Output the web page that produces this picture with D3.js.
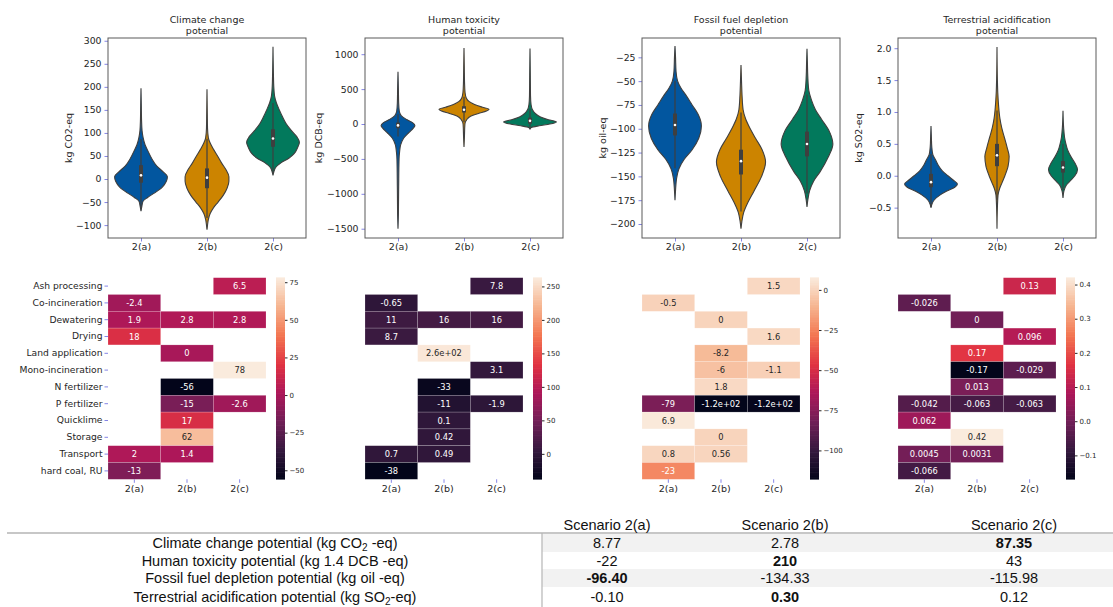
<!DOCTYPE html>
<html>
<head>
<meta charset="utf-8">
<script src="https://cdn.jsdelivr.net/npm/d3@7"></script>
<style>
body { margin: 0; background: #fff; }
text { font-family: "DejaVu Sans", sans-serif; fill: #262626; }
.tbl text { font-family: "Liberation Sans", Arial, sans-serif; fill: #111; }
</style>
</head>
<body>
<svg id="chart" width="1113" height="607"></svg>
<script>
// ---- data ----
var scenarios = ["2(a)", "2(b)", "2(c)"];
var titles = [["Climate change", "potential"], ["Human toxicity", "potential"],
              ["Fossil fuel depletion", "potential"], ["Terrestrial acidification", "potential"]];
var yLabels = ["kg CO2-eq", "kg DCB-eq", "kg oil-eq", "kg SO2-eq"];
var yDomains = [[-128, 306], [-1633, 1232], [-214.7, -4.7], [-0.976, 2.16]];
var yTicks = [
    [-100, -50, 0, 50, 100, 150, 200, 250, 300],
    [-1500, -1000, -500, 0, 500, 1000],
    [-200, -175, -150, -125, -100, -75, -50, -25],
    [-0.5, 0, 0.5, 1, 1.5, 2]
];
var violinColors = ["#02569f", "#cc8400", "#02795c"];

// violin outlines: [value, relative half width]
var climateShapes = [
    [[-70,0],[-60,0.03],[-48,0.08],[-40,0.25],[-30,0.52],[-18,0.8],[-5,0.96],[5,1.0],[15,0.85],[28,0.6],[45,0.4],[60,0.27],[75,0.15],[90,0.08],[105,0.04],[130,0.02],[160,0.012],[197,0]],
    [[-110,0],[-100,0.02],[-88,0.05],[-75,0.12],[-62,0.25],[-50,0.42],[-35,0.62],[-20,0.76],[-5,0.83],[5,0.83],[20,0.72],[35,0.55],[50,0.4],[65,0.24],[78,0.12],[90,0.05],[110,0.02],[140,0.012],[195,0]],
    [[8,0],[15,0.03],[25,0.1],[35,0.3],[45,0.6],[55,0.8],[68,0.93],[80,1.0],[92,0.9],[105,0.7],[120,0.5],[135,0.36],[150,0.24],[165,0.13],[180,0.06],[200,0.03],[230,0.015],[287,0]]
];
var humanShapes = [
    [[-1500,0],[-1300,0.015],[-900,0.025],[-500,0.04],[-400,0.06],[-300,0.1],[-200,0.22],[-120,0.42],[-60,0.58],[-20,0.64],[20,0.55],[70,0.3],[120,0.12],[180,0.05],[300,0.025],[500,0.015],[750,0]],
    [[-330,0],[-200,0.015],[0,0.035],[60,0.1],[110,0.25],[150,0.55],[185,0.85],[210,0.95],[240,0.7],[280,0.4],[320,0.2],[370,0.09],[450,0.04],[600,0.02],[800,0.012],[1090,0]],
    [[-70,0],[-50,0.05],[-25,0.35],[0,0.75],[30,1.0],[60,0.7],[100,0.4],[150,0.2],[200,0.1],[280,0.04],[400,0.02],[700,0.012],[1080,0]]
];
var fossilShapes = [
    [[-175,0],[-165,0.02],[-152,0.06],[-142,0.15],[-132,0.35],[-122,0.65],[-110,0.9],[-97,1.0],[-85,0.88],[-75,0.65],[-65,0.42],[-57,0.22],[-50,0.1],[-40,0.04],[-25,0.02],[-13,0]],
    [[-205,0],[-198,0.03],[-188,0.1],[-178,0.25],[-165,0.5],[-150,0.78],[-135,0.93],[-122,0.8],[-110,0.55],[-100,0.35],[-90,0.18],[-80,0.08],[-65,0.04],[-50,0.02],[-33,0]],
    [[-182,0],[-175,0.03],[-165,0.1],[-155,0.25],[-145,0.5],[-130,0.8],[-116,0.98],[-103,0.85],[-90,0.55],[-80,0.32],[-70,0.17],[-60,0.07],[-45,0.03],[-30,0.015],[-16,0]]
];
var acidShapes = [
    [[-0.5,0],[-0.45,0.03],[-0.38,0.12],[-0.3,0.35],[-0.24,0.6],[-0.18,0.9],[-0.13,1.0],[-0.07,0.85],[0,0.64],[0.08,0.42],[0.16,0.28],[0.25,0.17],[0.33,0.07],[0.45,0.03],[0.6,0.015],[0.78,0]],
    [[-0.83,0],[-0.5,0.015],[-0.3,0.04],[-0.2,0.1],[-0.1,0.2],[0,0.3],[0.15,0.42],[0.3,0.46],[0.45,0.38],[0.6,0.28],[0.75,0.18],[0.9,0.11],[1.1,0.06],[1.3,0.03],[1.5,0.015],[2.02,0]],
    [[-0.35,0],[-0.25,0.03],[-0.15,0.12],[-0.07,0.3],[0,0.45],[0.1,0.55],[0.2,0.45],[0.3,0.3],[0.4,0.18],[0.5,0.11],[0.6,0.06],[0.75,0.025],[1.02,0]]
];
var violinShapes = [climateShapes, humanShapes, fossilShapes, acidShapes];

// inner box: lower quartile, median, upper quartile
var boxQ1 = [[-8, -20, 70], [-60, 165, 5], [-107, -148, -129], [-0.18, 0.15, 0.05]];
var boxMed = [[8, 3, 88], [-20, 205, 45], [-96, -134, -116], [-0.1, 0.32, 0.13]];
var boxQ3 = [[30, 23, 108], [20, 255, 90], [-84, -122, -103], [0.03, 0.5, 0.23]];

// heatmaps
var processes = ["Ash processing", "Co-incineration", "Dewatering", "Drying", "Land application",
    "Mono-incineration", "N fertilizer", "P fertilizer", "Quicklime", "Storage", "Transport", "hard coal, RU"];
var heatClimate = [
    [null, null, 6.5], [-2.4, null, null], [1.9, 2.8, 2.8], [18, null, null],
    [null, 0, null], [null, null, 78], [null, -56, null], [null, -15, -2.6],
    [null, 17, null], [null, 62, null], [2, 1.4, null], [-13, null, null]
];
var heatHuman = [
    [null, null, 7.8], [-0.65, null, null], [11, 16, 16], [8.7, null, null],
    [null, 260, null], [null, null, 3.1], [null, -33, null], [null, -11, -1.9],
    [null, 0.1, null], [null, 0.42, null], [0.7, 0.49, null], [-38, null, null]
];
var heatFossil = [
    [null, null, 1.5], [-0.5, null, null], [null, 0, null], [null, null, 1.6],
    [null, -8.2, null], [null, -6, -1.1], [null, 1.8, null], [-79, -118, -117],
    [6.9, null, null], [null, 0, null], [0.8, 0.56, null], [-23, null, null]
];
var heatAcid = [
    [null, null, 0.13], [-0.026, null, null], [null, 0, null], [null, null, 0.096],
    [null, 0.17, null], [null, -0.17, -0.029], [null, 0.013, null], [-0.042, -0.063, -0.063],
    [0.062, null, null], [null, 0.42, null], [0.0045, 0.0031, null], [-0.066, null, null]
];
var heatValues = [heatClimate, heatHuman, heatFossil, heatAcid];
var cbarDomains = [[-56, 78], [-38, 263], [-118, 7.6], [-0.17, 0.42]];
var cbarTicks = [
    [-50, -25, 0, 25, 50, 75],
    [0, 50, 100, 150, 200, 250],
    [-100, -75, -50, -25, 0],
    [-0.1, 0, 0.1, 0.2, 0.3, 0.4]
];
var rocketStops = [0, 1/7, 2/7, 3/7, 4/7, 5/7, 6/7, 1];
var rocketColors = ["#03051a", "#35193e", "#701f57", "#ad1759", "#e13342", "#f37651", "#f6b48f", "#faebdd"];

// summary table
var tableRows = ["Climate change potential (kg CO", "Human toxicity potential (kg 1.4 DCB -eq)",
    "Fossil fuel depletion potential (kg oil -eq)", "Terrestrial acidification potential (kg SO"];
var tableHeaders = ["Scenario 2(a)", "Scenario 2(b)", "Scenario 2(c)"];
var tableValues = [[8.77, 2.78, 87.35], [-22, 210, 43], [-96.40, -134.33, -115.98], [-0.10, 0.30, 0.12]];
var tableDecimals = [2, 0, 2, 2];
var tableBold = [2, 1, 0, 1];

// ---- layout ----
var svg = d3.select("#chart");
var panelLeft = [108, 365, 642, 898];
var violinW = 198, violinTop = 38, violinBottom = 238;
var heatW = 158, heatTop = 277.7, heatBottom = 479.3;
var tickColor = "#8585e6";

function hyphen(s) { return s.replace(/\u2212/g, "-"); }
var annotFmt = function (v) {
    var s = hyphen(d3.format(".2~g")(v));
    return s.replace(/e([+-])(\d)$/, "e$10$2");
};

function luminance(c) {
    var rgb = d3.rgb(c);
    var lin = [rgb.r, rgb.g, rgb.b].map(function (v) {
        v = v / 255;
        return v <= 0.03928 ? v / 12.92 : Math.pow((v + 0.055) / 1.055, 2.4);
    });
    return 0.2126 * lin[0] + 0.7152 * lin[1] + 0.0722 * lin[2];
}

panelLeft.forEach(function (left, p) {
    var g = svg.append("g");

    // ---- violin panel ----
    var x = d3.scalePoint().domain(scenarios).range([left, left + violinW]).padding(0.5);
    var y = d3.scaleLinear().domain(yDomains[p]).range([violinBottom, violinTop]);
    var halfMax = x.step() * 0.4;

    g.append("text").attr("x", left + violinW / 2).attr("y", 23)
        .attr("text-anchor", "middle").style("font-size", "9.5px").text(titles[p][0]);
    g.append("text").attr("x", left + violinW / 2).attr("y", 34)
        .attr("text-anchor", "middle").style("font-size", "9.5px").text(titles[p][1]);

    var yAxis = g.append("g").attr("transform", "translate(" + left + ",0)")
        .call(d3.axisLeft(y).tickValues(yTicks[p]).tickSize(3.5).tickPadding(3)
            .tickFormat(p === 3 ? d3.format(".1f") : d3.format("d")));
    yAxis.select(".domain").remove();
    yAxis.selectAll("line").attr("stroke", tickColor);
    yAxis.selectAll("text").style("font-size", "9.3px").attr("fill", "#262626");

    var xAxis = g.append("g").attr("transform", "translate(0," + violinBottom + ")")
        .call(d3.axisBottom(x).tickSize(3.5).tickPadding(2));
    xAxis.select(".domain").remove();
    xAxis.selectAll("line").attr("stroke", tickColor);
    xAxis.selectAll("text").style("font-size", "9.5px").attr("fill", "#262626");

    g.append("text")
        .attr("transform", "translate(" + [left - 36 - (p === 1 ? 7 : 0), (violinTop + violinBottom) / 2] + ") rotate(-90)")
        .attr("text-anchor", "middle").style("font-size", "9.5px").text(yLabels[p]);

    scenarios.forEach(function (s, k) {
        var cx = x(s);
        var shape = violinShapes[p][k];
        var area = d3.area().curve(d3.curveMonotoneY)
            .y(function (d) { return y(d[0]); })
            .x0(function (d) { return cx - d[1] * halfMax; })
            .x1(function (d) { return cx + d[1] * halfMax; });
        g.append("path").datum(shape).attr("d", area)
            .attr("fill", violinColors[k]).attr("stroke", "#3f3f3f").attr("stroke-width", 1.1);

        var q1 = boxQ1[p][k], q3 = boxQ3[p][k], iqr = q3 - q1;
        var lo = Math.max(shape[0][0], q1 - 1.5 * iqr);
        var hi = Math.min(shape[shape.length - 1][0], q3 + 1.5 * iqr);
        g.append("line").attr("x1", cx).attr("x2", cx).attr("y1", y(lo)).attr("y2", y(hi))
            .attr("stroke", "#3f3f3f").attr("stroke-width", 1.2);
        g.append("line").attr("x1", cx).attr("x2", cx).attr("y1", y(q1)).attr("y2", y(q3))
            .attr("stroke", "#3f3f3f").attr("stroke-width", 4);
        g.append("circle").attr("cx", cx).attr("cy", y(boxMed[p][k])).attr("r", 1.3).attr("fill", "#fff");
    });

    g.append("rect").attr("x", left).attr("y", violinTop).attr("width", violinW)
        .attr("height", violinBottom - violinTop).attr("fill", "none")
        .attr("stroke", "#5a5a5a").attr("stroke-width", 1);

    // ---- heatmap panel ----
    var hx = d3.scaleBand().domain(scenarios).range([left, left + heatW]);
    var hy = d3.scaleBand().domain(processes).range([heatTop, heatBottom]);
    var dom = cbarDomains[p];
    var color = d3.scaleLinear()
        .domain(rocketStops.map(function (t) { return dom[0] + t * (dom[1] - dom[0]); }))
        .range(rocketColors).clamp(true);

    var cells = [];
    heatValues[p].forEach(function (row, i) {
        row.forEach(function (v, j) {
            if (v !== null) cells.push({ r: processes[i], c: scenarios[j], v: v });
        });
    });

    g.selectAll(".cell").data(cells).enter().append("rect")
        .attr("x", function (d) { return hx(d.c); })
        .attr("y", function (d) { return hy(d.r); })
        .attr("width", hx.bandwidth()).attr("height", hy.bandwidth())
        .attr("fill", function (d) { return color(d.v); })
        .attr("stroke", "#fff").attr("stroke-opacity", 0.35).attr("stroke-width", 0.5);

    g.selectAll(".annot").data(cells).enter().append("text")
        .attr("x", function (d) { return hx(d.c) + hx.bandwidth() / 2; })
        .attr("y", function (d) { return hy(d.r) + hy.bandwidth() / 2 + 3; })
        .attr("text-anchor", "middle").style("font-size", "8.3px")
        .style("fill", function (d) { return luminance(color(d.v)) > 0.408 ? "#262626" : "#fff"; })
        .text(function (d) { return annotFmt(d.v); });

    var hxAxis = g.append("g").attr("transform", "translate(0," + heatBottom + ")")
        .call(d3.axisBottom(hx).tickSize(3.5).tickPadding(2));
    hxAxis.select(".domain").remove();
    hxAxis.selectAll("line").attr("stroke", tickColor);
    hxAxis.selectAll("text").style("font-size", "9.5px").attr("fill", "#262626");

    if (p === 0) {
        var hyAxis = g.append("g").attr("transform", "translate(" + left + ",0)")
            .call(d3.axisLeft(hy).tickSize(3.5).tickPadding(2));
        hyAxis.select(".domain").remove();
        hyAxis.selectAll("line").attr("stroke", tickColor);
        hyAxis.selectAll("text").style("font-size", "9.2px").attr("fill", "#262626");
    }

    // colorbar
    var cbX = left + 168, cbW = 9;
    var cy = d3.scaleLinear().domain(dom).range([heatBottom, heatTop]);
    var steps = d3.range(0, 120).map(function (i) { return dom[0] + (dom[1] - dom[0]) * i / 120; });
    var stepH = (heatBottom - heatTop) / 120;
    g.selectAll(".cb").data(steps).enter().append("rect")
        .attr("x", cbX).attr("width", cbW)
        .attr("y", function (d) { return cy(d) - stepH - 0.3; })
        .attr("height", stepH + 0.6)
        .attr("fill", function (d) { return color(d + (dom[1] - dom[0]) / 240); });
    var cbAxis = g.append("g").attr("transform", "translate(" + (cbX + cbW) + ",0)")
        .call(d3.axisRight(cy).tickValues(cbarTicks[p]).tickSize(2.5).tickPadding(2)
            .tickFormat(p === 3 ? d3.format(".1f") : d3.format("d")));
    cbAxis.select(".domain").remove();
    cbAxis.selectAll("line").attr("stroke", "#262626");
    cbAxis.selectAll("text").style("font-size", "7px").attr("fill", "#262626");
});

// ---- summary table ----
var tbl = svg.append("g").attr("class", "tbl");
var colX = [607, 785, 1014];
var rowCenters = [543, 560.5, 578, 597];
var shadeBands = [[534, 552], [569, 587]];

shadeBands.forEach(function (b) {
    tbl.append("rect").attr("x", 542).attr("y", b[0]).attr("width", 1113 - 542)
        .attr("height", b[1] - b[0]).attr("fill", "#f2f2f2");
});
tbl.append("line").attr("x1", 7).attr("x2", 1113).attr("y1", 533).attr("y2", 533)
    .attr("stroke", "#b5b5b5").attr("stroke-width", 1.5);
tbl.append("line").attr("x1", 542).attr("x2", 542).attr("y1", 533).attr("y2", 607)
    .attr("stroke", "#b5b5b5").attr("stroke-width", 1.2);

tableHeaders.forEach(function (h, j) {
    tbl.append("text").attr("x", colX[j]).attr("y", 530).attr("text-anchor", "middle")
        .style("font-size", "14.5px").text(h);
});

tableRows.forEach(function (label, i) {
    var t = tbl.append("text").attr("x", 275).attr("y", rowCenters[i] + 5)
        .attr("text-anchor", "middle").style("font-size", "14.5px");
    t.append("tspan").text(label);
    if (i === 0 || i === 3) {
        t.append("tspan").attr("dy", 3).style("font-size", "10px").text("2");
        t.append("tspan").attr("dy", -3).text(i === 0 ? " -eq)" : "-eq)");
    }
    tableValues[i].forEach(function (v, j) {
        tbl.append("text").attr("x", colX[j]).attr("y", rowCenters[i] + 5)
            .attr("text-anchor", "middle").style("font-size", "14.5px")
            .style("font-weight", tableBold[i] === j ? "bold" : "normal")
            .text(v.toFixed(tableDecimals[i]));
    });
});
</script>
</body>
</html>
